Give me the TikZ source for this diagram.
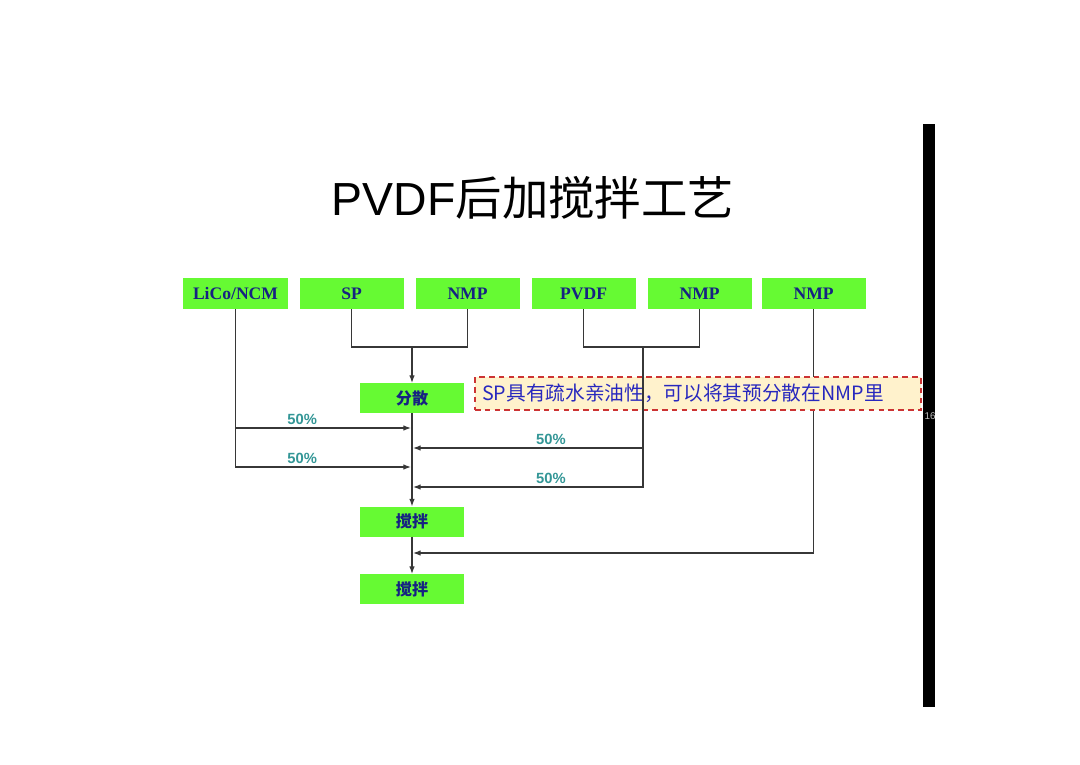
\documentclass[tikz,border=0pt]{standalone}
\usepackage{fontspec}
\setmainfont{Liberation Serif}
\newfontfamily\cjkfont{Noto Sans CJK SC}
\newfontfamily\arialfont{Liberation Sans}
\usepackage{tikz}
\usetikzlibrary{positioning}
\usetikzlibrary{arrows,arrows.meta}
\definecolor{boxgreen}{RGB}{102,250,51}
\definecolor{labelblue}{RGB}{22,34,130}
\definecolor{pctteal}{RGB}{51,150,150}
\definecolor{notefill}{RGB}{255,242,204}
\definecolor{notered}{RGB}{204,51,51}
\definecolor{noteblue}{RGB}{40,40,190}
\definecolor{linegray}{RGB}{55,55,55}
\tikzstyle{block} = [fill=boxgreen, rectangle, inner sep=0pt, outer sep=0pt, minimum height=0.775cm, minimum width=2.6cm, text=labelblue, font=\bfseries\fontsize{12.5}{14}\selectfont]
\tikzstyle{procbox} = [block, minimum height=0.75cm, font=\cjkfont\bfseries\fontsize{11.5}{13}\selectfont]
\tikzstyle{pct} = [text=pctteal, inner sep=2pt, font=\arialfont\bfseries\fontsize{10.5}{12}\selectfont]
\tikzstyle{note} = [draw=notered, fill=notefill, line width=1.2pt, dash pattern=on 4pt off 3pt, minimum height=0.825cm, inner xsep=0.18cm, text width=10.79cm, align=left, text=noteblue, font=\cjkfont\fontsize{14}{16}\selectfont]
\tikzstyle{coord} = [coordinate]

\begin{document}
\begin{tikzpicture}[auto, >={Latex[length=5.5pt,width=4pt]}, x=0.025cm, y=-0.025cm, line width=0.9pt, draw=linegray]
	\useasboundingbox (0,0) rectangle (1080,764);
	\node [font=\fontsize{33}{38}\selectfont] (title) at (533,198) {{\arialfont PVDF}{\cjkfont 后加搅拌工艺}};

	\node [block] (lico) at (235.5,293.5) {LiCo/NCM};
	\node [block, node distance=0.3cm, right=of lico] (sp) {SP};
	\node [block, node distance=0.3cm, right=of sp] (nmpa) {NMP};
	\node [block, node distance=0.3cm, right=of nmpa] (pvdf) {PVDF};
	\node [block, node distance=0.3cm, right=of pvdf] (nmpb) {NMP};
	\node [block, node distance=0.25cm, right=of nmpb] (nmpc) {NMP};

	\node [procbox] (fensan) at (412,398) {分散};
	\node [procbox] (jiaoban) at (412,521.5) {搅拌};
	\node [procbox] (jiaobanb) at (412,589) {搅拌};

	\node [coord] (spjoin) at (412,347) {};
	\node [coord] (pvjoin) at (643,347) {};
	\node [coord] (inA) at (411,428) {};
	\node [coord] (inB) at (411,467) {};
	\node [coord] (inC) at (413,448) {};
	\node [coord] (inD) at (413,487) {};
	\node [coord] (inE) at (413,553) {};

	\draw (sp.south) |- (spjoin) -| (nmpa.south);
	\draw [->] (spjoin) -- (fensan.north);
	\draw (pvdf.south) |- (pvjoin) -| (nmpb.south);
	\draw [->] (fensan.south) -- (jiaoban.north);
	\draw [->] (jiaoban.south) -- (jiaobanb.north);
	\draw [->] (lico.south) |- node [pct, pos=0.69, above] {50\%} (inA);
	\draw [->] (lico.south) |- node [pct, pos=0.69, above] {50\%} (inB);
	\draw [->] (nmpc.south) |- (inE);

	\node [note] (spnote) at (698,393.5) {SP具有疏水亲油性，可以将其预分散在NMP里};

	\draw [->] (pvjoin) |- node [pct, pos=0.7, above] {50\%} (inC);
	\draw [->] (pvjoin) |- node [pct, pos=0.7, above] {50\%} (inD);

	\fill [black] (923,124) rectangle (935,707);
	\node [text=gray!50, inner sep=0pt, font=\arialfont\fontsize{7}{8}\selectfont] (pagenum) at (930,416) {16};
\end{tikzpicture}
\end{document}
